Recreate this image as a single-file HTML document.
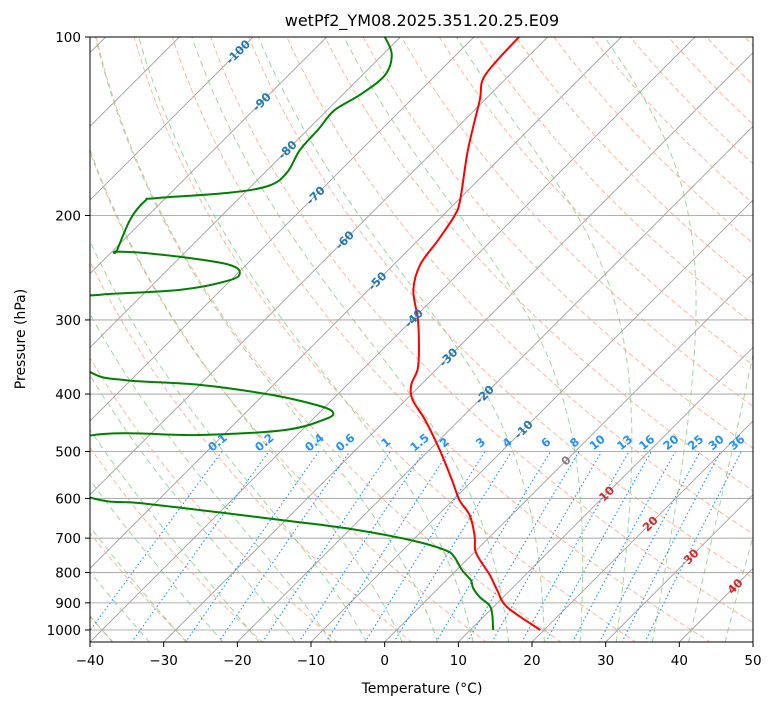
<!DOCTYPE html>
<html><head><meta charset="utf-8"><style>
html,body{margin:0;padding:0;background:#fff;}
svg{display:block;font-family:"DejaVu Sans","Liberation Sans",sans-serif;}
</style></head><body>
<svg id="chart" width="775" height="708" viewBox="0 0 775 708" xmlns="http://www.w3.org/2000/svg">
<defs><clipPath id="clip"><rect x="90" y="37" width="663" height="605"/></clipPath></defs>
<rect x="0" y="0" width="775" height="708" fill="#fff"/>
<text x="422" y="26" text-anchor="middle" font-size="16">wetPf2_YM08.2025.351.20.25.E09</text>
<g id="plot" clip-path="url(#clip)"></g>
<g id="axes"></g>
<rect x="90" y="37" width="663" height="605" fill="none" stroke="#000" stroke-width="1"/>
<text x="422" y="693" text-anchor="middle" font-size="14">Temperature (°C)</text>
<text transform="translate(25,339) rotate(-90)" text-anchor="middle" font-size="14">Pressure (hPa)</text>
</svg>
<script>
// ---- data ----
const tempP = [100,116,128,155,188,200,220,242,267,300,337,364,386,409,442,497,558,604,640,692,733,762,808,856,915,1000];
const tempT = [-63.9,-63.3,-60.6,-55.5,-49.8,-48.4,-47.3,-46.4,-43.9,-39.2,-35,-32.5,-31.3,-29.1,-24.7,-18.6,-12.9,-9.1,-5.7,-2.3,-0.2,1.8,5.2,8.2,11.9,19.5];
const greenP = [100,107,116,125,133,143,155,169,178,183,187,189,203,229,230,231,236,242,249,257,267,272,278,318,367,379,386,401,417,428,440,460,469,470,530,599,611,632,652,673,705,733,753,792,824,850,880,918,1000];
const greenT = [-82.1,-78.8,-76.9,-77.6,-79,-78.6,-78.3,-77,-77.6,-82,-91.4,-92.4,-91.9,-89.5,-89.5,-86,-78.5,-72.4,-69.9,-70.1,-75.6,-85.7,-87.8,-88.5,-76.7,-70.8,-60,-49.1,-41.6,-38.4,-38.2,-42.3,-53.2,-68,-75,-59.3,-52,-40.7,-30.8,-20.9,-10.4,-4.3,-2.1,0.7,3.3,4.7,6.8,9.8,13.1];
const xTicks = [-40,-30,-20,-10,0,10,20,30,40,50];
const pTicks = [100,200,300,400,500,600,700,800,900,1000];
const isoLabelT = [-100,-90,-80,-70,-60,-50,-40,-30,-20,-10,0,10,20,30,40];
const isoLabelP = [106,128.7,155,185,220,258,298,347,401,459,518,589,662,752,844];
const mixRatios = [0.1,0.2,0.4,0.6,1,1.5,2,3,4,6,8,10,13,16,20,25,30,36];
const dryTheta = [];
for (let t=-120;t<=320;t+=10) dryTheta.push(t);
const moistT0 = [-40,-35,-30,-25,-20,-15,-10,-5,0,5,10,15,20,25,30,35,40,45];

// ---- axes ----
const NS='http://www.w3.org/2000/svg';
function yOf(p){return 37+(Math.log10(p)-2)*593;}
function xOf(T,p){return 90+(T+40)*7.3667+(642-yOf(p));}
const plot=document.getElementById('plot'), axes=document.getElementById('axes');
function mk(tag,attrs,parent){const e=document.createElementNS(NS,tag);for(const k in attrs)e.setAttribute(k,attrs[k]);parent.appendChild(e);return e;}
function pathFrom(Ts,Ps){return Ts.map((T,i)=>(i?'L':'M')+xOf(T,Ps[i]).toFixed(2)+','+yOf(Ps[i]).toFixed(2)).join('');}
function smoothPath(Ts,Ps){
  const pts=Ts.map((T,i)=>[xOf(T,Ps[i]),yOf(Ps[i])]);
  let d='M'+pts[0][0].toFixed(2)+','+pts[0][1].toFixed(2);
  for(let i=0;i<pts.length-1;i++){
    const p0=pts[Math.max(0,i-1)],p1=pts[i],p2=pts[i+1],p3=pts[Math.min(pts.length-1,i+2)];
    const c1=[p1[0]+(p2[0]-p0[0])/6,p1[1]+(p2[1]-p0[1])/6];
    const c2=[p2[0]-(p3[0]-p1[0])/6,p2[1]-(p3[1]-p1[1])/6];
    d+='C'+c1[0].toFixed(2)+','+c1[1].toFixed(2)+' '+c2[0].toFixed(2)+','+c2[1].toFixed(2)+' '+p2[0].toFixed(2)+','+p2[1].toFixed(2);
  }
  return d;
}
const pAll=[];for(let p=1050;p>=100;p-=5)pAll.push(p);

pTicks.forEach(p=>{
  const l=mk('line',{x1:90,x2:753,y1:yOf(p),y2:yOf(p),stroke:'#b0b0b0','stroke-width':1.1},plot);
  
  
});
for(let T=-160;T<=60;T+=10){
  const l=mk('line',{x1:xOf(T,1050),y1:yOf(1050),x2:xOf(T,100),y2:yOf(100),stroke:'#a0a0a0','stroke-width':0.9},plot);
  
  
}
dryTheta.forEach(th=>{
  const Ts=pAll.map(p=>(th+273.15)*Math.pow(p/1000,0.2857)-273.15);
  const e=mk('path',{d:pathFrom(Ts,pAll),fill:'none',stroke:'#f4a07f','stroke-opacity':0.75,'stroke-width':1,'stroke-dasharray':'5,3'},plot);
  
  
});
function dTdp(T,p){const Rd=287.04,Cp=1005.7,Lv=2.501e6,eps=0.622;const Tc=T-273.15;
  const es=6.112*Math.exp(17.67*Tc/(Tc+243.5));const rs=eps*es/(p-es);
  return (Rd*T+Lv*rs)/(p*(Cp+Lv*Lv*rs*eps/(Rd*T*T)));}
moistT0.forEach(t0=>{
  const Ps=[],Ts=[];let T=t0+273.15,p=1000;
  let Tb=T;for(let q=1000;q<1050;q+=5){const k1=dTdp(Tb,q);const k2=dTdp(Tb+k1*5,q+5);Tb+=5*(k1+k2)/2;}
  Ps.push(1050);Ts.push(Tb-273.15);
  Ps.push(1000);Ts.push(T-273.15);
  while(p>100){const h=-5;const k1=dTdp(T,p);const k2=dTdp(T+k1*h,p+h);T+=h*(k1+k2)/2;p+=h;Ps.push(p);Ts.push(T-273.15);}
  const e=mk('path',{d:pathFrom(Ts,Ps),fill:'none',stroke:'#80c880','stroke-opacity':0.75,'stroke-width':1,'stroke-dasharray':'6,4'},plot);
  
  
});
function tdFromW(w,p){const e=w*p/(622+w);const l=Math.log(e/6.112);return 243.5*l/(17.67-l);}
const pMix=[];for(let p=1050;p>=500;p-=10)pMix.push(p);
mixRatios.forEach(w=>{
  const Ts=pMix.map(p=>tdFromW(w,p));
  const e=mk('path',{d:pathFrom(Ts,pMix),fill:'none',stroke:'#1e90ff','stroke-width':1.1,'stroke-dasharray':'1.5,2.5'},plot);
  
  
  const x=xOf(tdFromW(w,500),500)-2,y=yOf(500)-6;
  const t=mk('text',{x:x,y:y,'text-anchor':'middle','font-size':11.5,'font-weight':'bold',fill:'#1e90ff',transform:'rotate(-40 '+x+' '+y+')'},axes);
  t.textContent=String(w);
  
  
});
isoLabelT.forEach((T,i)=>{
  const p=isoLabelP[i],x=xOf(T,p),y=yOf(p)+4;
  const col=T<0?'#1f77b4':(T===0?'#808080':'#d62728');
  const t=mk('text',{x:x,y:y,'text-anchor':'middle','font-size':11.5,'font-weight':'bold',fill:col,transform:'rotate(-45 '+x+' '+(y-4)+')'},axes);
  t.textContent=String(T);
  
  
});
const gp=mk('path',{d:smoothPath(greenT,greenP),fill:'none',stroke:'#008000','stroke-width':2,'stroke-linejoin':'round'},plot);


const rp=mk('path',{d:smoothPath(tempT,tempP),fill:'none',stroke:'#ff0000','stroke-width':2,'stroke-linejoin':'round'},plot);


xTicks.forEach(T=>{
  const x=90+(T+40)*7.3667;
  const l=mk('line',{x1:x,x2:x,y1:642,y2:647,stroke:'#000'},axes);
  
  
  const t=mk('text',{x:x,y:665,'text-anchor':'middle','font-size':13.5},axes);
  t.textContent=T<0?'\u2212'+(-T):String(T);
  
  
});
pTicks.forEach(p=>{
  const y=yOf(p);
  const l=mk('line',{x1:85,x2:90,y1:y,y2:y,stroke:'#000'},axes);
  
  
  const t=mk('text',{x:81,y:y+5,'text-anchor':'end','font-size':13.5},axes);
  t.textContent=String(p);
  
  
});
</script>
</body></html>
